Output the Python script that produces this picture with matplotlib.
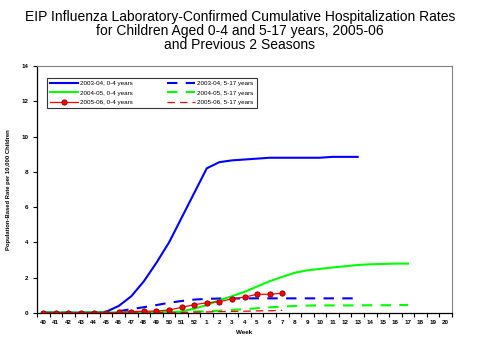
import matplotlib
matplotlib.use("Agg")
import matplotlib.pyplot as plt
import numpy as np

weeks = [str(w) for w in range(40, 53)] + [str(w) for w in range(1, 21)]

blue_04 = [0.02, 0.02, 0.02, 0.02, 0.02, 0.07, 0.4, 0.95, 1.8, 2.85, 4.0, 5.4, 6.8,
           8.2, 8.55, 8.65, 8.7, 8.75, 8.8, 8.8, 8.8, 8.8, 8.8, 8.85, 8.85, 8.85]
blue_517 = [0.02, 0.02, 0.02, 0.02, 0.02, 0.03, 0.1, 0.22, 0.33, 0.45, 0.58, 0.68, 0.76,
            0.8, 0.82, 0.82, 0.83, 0.83, 0.83, 0.83, 0.83, 0.83, 0.83, 0.83, 0.83, 0.83]
green_04 = [0.02, 0.02, 0.02, 0.02, 0.03, 0.03, 0.03, 0.04, 0.04, 0.05, 0.05, 0.08, 0.25,
            0.45, 0.72, 0.95, 1.2, 1.5, 1.8, 2.05, 2.28, 2.42, 2.5, 2.58, 2.65, 2.72,
            2.76, 2.78, 2.8, 2.8]
green_517 = [0.01, 0.01, 0.01, 0.01, 0.01, 0.01, 0.01, 0.01, 0.02, 0.02, 0.03, 0.05, 0.08,
             0.1, 0.13, 0.17, 0.22, 0.27, 0.32, 0.36, 0.4, 0.42, 0.43, 0.43, 0.43, 0.43,
             0.44, 0.44, 0.44, 0.46]
red_04 = [0.02, 0.02, 0.02, 0.02, 0.02, 0.02, 0.03, 0.08, 0.1, 0.11, 0.17, 0.32, 0.47,
          0.58, 0.64, 0.8, 0.9, 1.06, 1.06, 1.12]
red_517 = [0.01, 0.01, 0.01, 0.01, 0.01, 0.01, 0.01, 0.01, 0.01, 0.01, 0.02, 0.03, 0.05,
           0.06, 0.08, 0.09, 0.1, 0.12, 0.13, 0.15]

fig = plt.figure(figsize=(4.8, 3.6), dpi=100)
ax = fig.add_axes([37/480, 47/360, 415/480, 247/360])
fs = "Liberation Sans"

def xs(v):
    return np.arange(len(v))

ax.plot(xs(blue_04), blue_04, color="#0000ff", lw=1.5, label="2003-04, 0-4 years")
ax.plot(xs(blue_517), blue_517, color="#0000ff", lw=1.5, dashes=(5, 4), label="2003-04, 5-17 years")
ax.plot(xs(green_04), green_04, color="#00ff00", lw=1.5, label="2004-05, 0-4 years")
ax.plot(xs(green_517), green_517, color="#00ff00", lw=1.5, dashes=(5, 4), label="2004-05, 5-17 years")
ax.plot(xs(red_04), red_04, color="#ff0000", lw=0.9, marker="o", ms=3.8,
        mfc="#ff0000", mec="#800000", mew=0.6, label="2005-06, 0-4 years")
ax.plot(xs(red_517), red_517, color="#ff0000", lw=0.9, dashes=(6, 4), label="2005-06, 5-17 years")

ax.set_xlim(-0.5, len(weeks) - 0.5)
ax.set_ylim(0, 14)
ax.set_yticks(range(0, 15, 2))
ax.set_xticks(range(len(weeks)))
ax.set_xticklabels(weeks)
ax.set_xticks(np.arange(-0.5, len(weeks), 1), minor=True)
ax.tick_params(axis="x", which="major", length=0, pad=5)
ax.tick_params(axis="x", which="minor", length=3, width=0.8, direction="out")
ax.tick_params(axis="y", length=3, width=0.8, direction="out", pad=3)
for lab in ax.get_xticklabels() + ax.get_yticklabels():
    lab.set_fontfamily(fs)
    lab.set_fontsize(4.5)
    lab.set_fontweight("bold")

ax.spines["top"].set_color("#808080")
ax.spines["right"].set_color("#808080")
ax.spines["left"].set_linewidth(0.9)
ax.spines["bottom"].set_linewidth(0.9)

ax.set_xlabel("Week", fontfamily=fs, fontsize=4.5, fontweight="bold", labelpad=4)
ax.set_ylabel("Population-Based Rate per 10,000 Children", fontfamily=fs, fontsize=4.2,
              fontweight="bold", labelpad=8)

fig.text(0.5, 1 - 10/360, "EIP Influenza Laboratory-Confirmed Cumulative Hospitalization Rates\n"
         "for Children Aged 0-4 and 5-17 years, 2005-06\nand Previous 2 Seasons",
         ha="center", va="top", fontfamily=fs, fontsize=10, linespacing=1.02)

handles, labels = ax.get_legend_handles_labels()
order = [0, 2, 4, 1, 3, 5]
leg = ax.legend([handles[i] for i in order], [labels[i] for i in order], ncol=2,
                loc="upper left", bbox_to_anchor=(10/415, 1 - 12/247),
                prop={"family": fs, "size": 4.5}, frameon=True, fancybox=False,
                edgecolor="black", handlelength=4.5, handletextpad=0.3,
                columnspacing=5.5, borderpad=0.5, labelspacing=0.6, borderaxespad=0)
leg.get_frame().set_linewidth(0.8)

fig.savefig("out.png", dpi=100)
